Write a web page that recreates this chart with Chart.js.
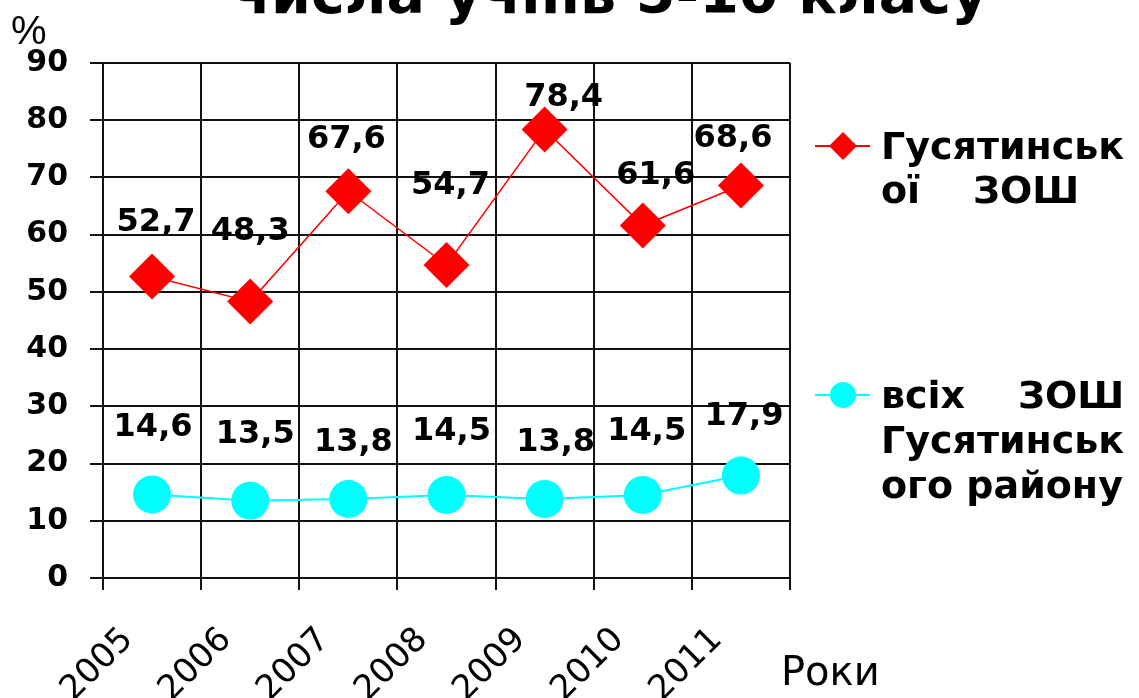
<!DOCTYPE html>
<html><head><meta charset="utf-8">
<script src="https://cdn.jsdelivr.net/npm/chart.js@4/dist/chart.umd.min.js"></script>
<style>html,body{margin:0;padding:0;background:#fff;overflow:hidden}#wrap{width:1139px;height:698px;position:relative}</style>
</head><body><div id="wrap"><canvas id="c" width="1139" height="698"></canvas></div>
<script>
// ---- data ----
const years = ['2005', '2006', '2007', '2008', '2009', '2010', '2011'];
const schoolValues = [52.7, 48.3, 67.6, 54.7, 78.4, 61.6, 68.6];
const districtValues = [14.6, 13.5, 13.8, 14.5, 13.8, 14.5, 17.9];
const yMin = 0, yMax = 90, yStep = 10;
const schoolName = ['Гусятинськ', 'ої    ЗОШ'];
const districtName = ['всіх    ЗОШ', 'Гусятинськ', 'ого району'];
const titleText = 'числа учнів 5-10 класу';
const yUnitText = '%';
const xTitleText = 'Роки';

// ---- style (label nudges in px, not data) ----
const labelNudge = [
  [[4,-54],[0,-70],[-2,-51],[4,-79],[19,-32],[13,-50],[-8,-47]],
  [[1,-67],[5,-66],[5,-56],[5,-63],[11,-56],[4,-63],[3,-59]]
];
const legendLayout = [
  {y: 146, lines: [159, 203]},
  {y: 395, lines: [408, 453, 498]}
];
const RED = '#ff0000', CYAN = '#00ffff';

const fmt = v => v.toFixed(1).replace('.', ',');

const extrasPlugin = {
  id: 'extras',
  afterDraw(chart) {
    const ctx = chart.ctx;
    ctx.save();
    ctx.fillStyle = '#000';
    // title (partially cut at top)
    ctx.font = 'bold 57px "DejaVu Sans"';
    ctx.textAlign = 'center';
    ctx.textBaseline = 'alphabetic';
    ctx.fillText(titleText, 610, 13);
    // y unit
    ctx.font = '40px "Liberation Sans"';
    ctx.textAlign = 'left';
    ctx.fillText(yUnitText, 11, 44);
    // x title
    ctx.font = '40px "DejaVu Sans"';
    ctx.fillText(xTitleText, 781, 685);
    // data labels
    ctx.font = 'bold 32px "DejaVu Sans"';
    ctx.textAlign = 'center';
    ctx.textBaseline = 'middle';
    chart.data.datasets.forEach((ds, di) => {
      const meta = chart.getDatasetMeta(di);
      meta.data.forEach((pt, i) => {
        const n = labelNudge[di][i];
        ctx.fillText(fmt(ds.data[i]), pt.x + n[0], pt.y + n[1]);
      });
    });
    // legend
    chart.data.datasets.forEach((ds, di) => {
      const L = legendLayout[di];
      ctx.strokeStyle = ds.borderColor;
      ctx.lineWidth = 2;
      ctx.beginPath(); ctx.moveTo(815, L.y); ctx.lineTo(870, L.y); ctx.stroke();
      ctx.fillStyle = ds.pointBackgroundColor;
      ctx.beginPath();
      if (ds.pointStyle === 'rectRot') {
        ctx.moveTo(843 - 14, L.y); ctx.lineTo(843, L.y - 14); ctx.lineTo(843 + 14, L.y); ctx.lineTo(843, L.y + 14);
        ctx.closePath();
      } else {
        ctx.arc(843, L.y, 13, 0, Math.PI * 2);
      }
      ctx.fill();
      ctx.fillStyle = '#000';
      ctx.font = 'bold 38px "DejaVu Sans"';
      ctx.textAlign = 'left';
      ctx.textBaseline = 'alphabetic';
      ds.legendLines.forEach((t, k) => ctx.fillText(t, 881, L.lines[k]));
    });
    ctx.restore();
  }
};

const gridColor = '#111';
new Chart(document.getElementById('c'), {
  type: 'line',
  data: {
    labels: years,
    datasets: [
      {
        label: schoolName.join(' '),
        legendLines: schoolName,
        data: schoolValues,
        borderColor: RED, borderWidth: 1.5,
        pointStyle: 'rectRot', pointRadius: 23,
        pointBackgroundColor: RED, pointBorderColor: RED, pointBorderWidth: 0,
        tension: 0
      },
      {
        label: districtName.join(' '),
        legendLines: districtName,
        data: districtValues,
        borderColor: CYAN, borderWidth: 2,
        pointStyle: 'circle', pointRadius: 19,
        pointBackgroundColor: CYAN, pointBorderColor: CYAN, pointBorderWidth: 0,
        tension: 0
      }
    ]
  },
  options: {
    responsive: false,
    animation: false,
    devicePixelRatio: 1,
    layout: {padding: {left: 0, top: 63, right: 349, bottom: 0}},
    plugins: {legend: {display: false}, tooltip: {enabled: false}, title: {display: false}},
    scales: {
      x: {
        type: 'category',
        offset: true,
        grid: {offset: true, color: gridColor, lineWidth: 2, tickLength: 12, drawTicks: true},
        border: {color: gridColor, width: 2},
        ticks: {
          autoSkip: false, minRotation: 45, maxRotation: 45,
          color: '#000', font: {family: 'DejaVu Sans', size: 34},
          padding: 30, labelOffset: -24
        },
        afterFit(s) { s.height = 120; }
      },
      y: {
        min: yMin, max: yMax,
        ticks: {stepSize: yStep, color: '#000', font: {family: 'DejaVu Sans', size: 30, weight: 'bold'}, padding: 22},
        grid: {color: gridColor, lineWidth: 2, tickLength: 13},
        border: {color: gridColor, width: 2},
        afterFit(s) { s.width = 103; }
      }
    }
  },
  plugins: [extrasPlugin]
});
</script></body></html>
